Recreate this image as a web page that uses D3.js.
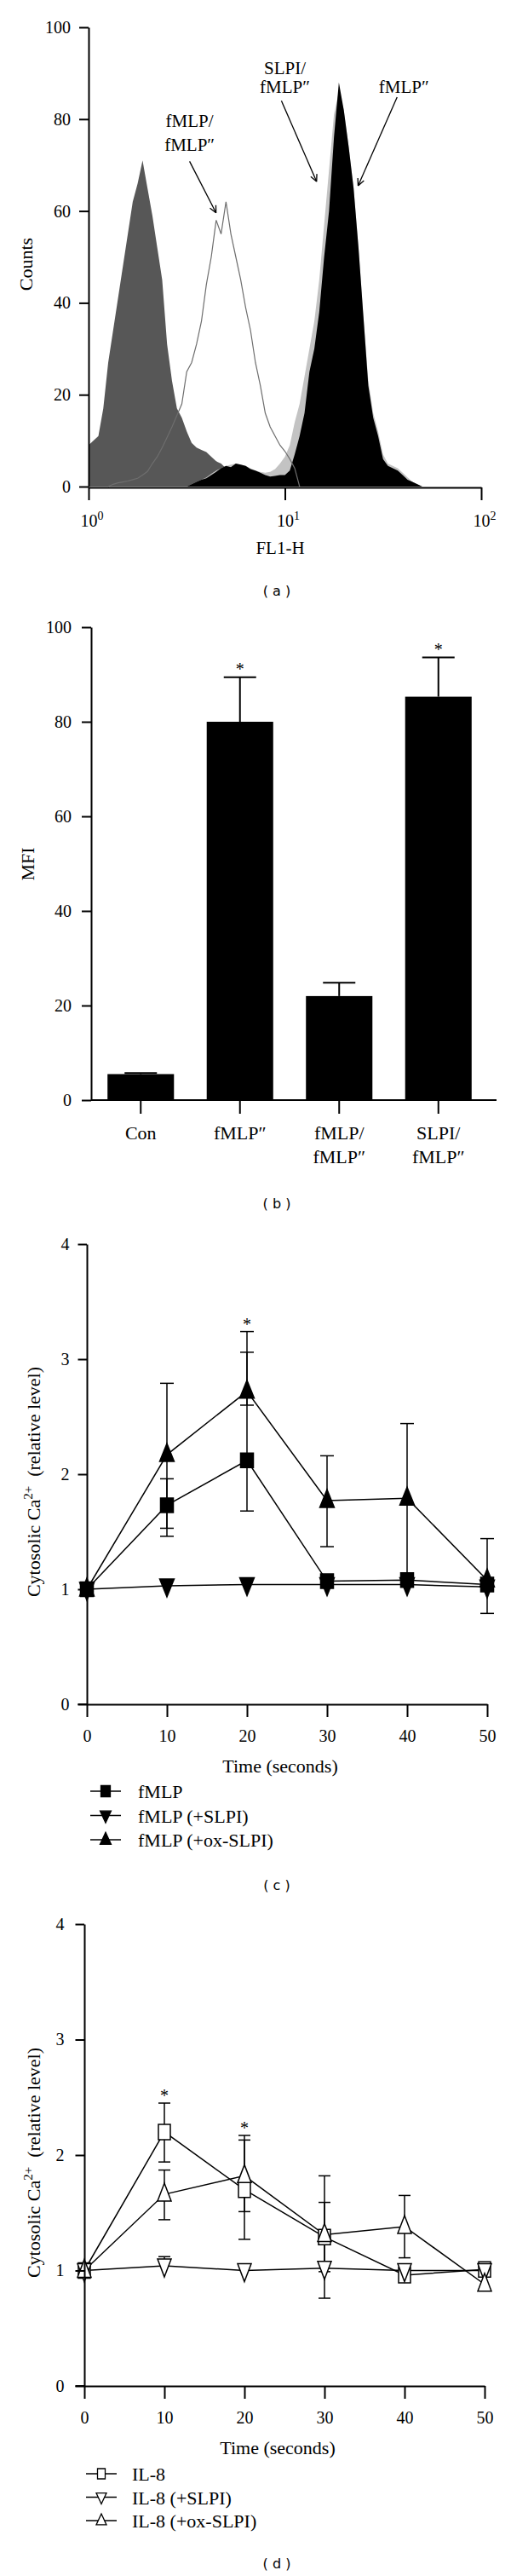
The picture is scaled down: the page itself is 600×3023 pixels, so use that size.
<!DOCTYPE html>
<html><head><meta charset="utf-8">
<script src="https://cdn.jsdelivr.net/npm/d3@7"></script>
<style>body{margin:0;background:#fff}</style>
</head><body>
<svg id="chart" width="600" height="3023" xmlns="http://www.w3.org/2000/svg"></svg>
<script>
// ================= DATA =================
// ---- Panel (a): flow cytometry histograms (FL1-H, log scale) ----
const histStep = 0.025; // bin width in log10(FL1-H)
const ctrlStartLog = 0;
const ctrlCounts = [9,10,11,17,27,34,41,48,55,62,66,71,65,59,52,45,31,23,17,15,12,9.5,8.5,8,7.5,6.5,5.5,5,4,3,2,1,0];
const fmlpFmlpStartLog = 0.1;
const fmlpFmlpCounts = [0,0.5,0.8,1,1.2,1.5,1.8,2.5,3.3,5,6.5,8.5,10.7,13,15.5,18,25,27,31,36,44,50,58,55,62,55,50,45,39,34,27,22,16,13,11,9,7.7,6,4,0];
const slpiFmlpStartLog = 0.5;
const slpiFmlpCounts = [0,0.5,1,1.5,2,2.8,3.5,4,4.5,4.8,5,4.8,4.5,4,3.5,3.2,3,3.2,3.8,5,6.5,9,14,18,24,30,36,45,57,69,81,86,82,74,65,52,37,23,16,12,7,5,4.5,4,3,2,1,0.5,0];
const fmlpStartLog = 0.5;
const fmlpCounts = [0,0.5,1,1.5,1.8,2.5,3.2,4,4.5,4.2,5,4.8,4.5,3.8,3.5,3,2.5,2.2,2.3,2.5,2.5,3.5,7,11,16,25,30,38,50,60,76,88,82,74,65,52,37,22,15,11,6,4.5,4,3.5,2.5,1.5,1,0.5,0];
const aYTicks = [0,20,40,60,80,100];
const aXTicks = [1,10,100];
const aXTickExp = ["0","1","2"];
const aNoteLines = [["fMLP/","fMLP\u2033"],["SLPI/","fMLP\u2033"],["fMLP\u2033"]];
const aNoteX = [3.27, 10, 40.4];           // FL1-H of text centre
const aNoteBaseCounts = [[78.3,73.1],[89.8,85.7],[85.7]];
const aArrowFrom = [[3.27,70.8],[9.6,84.0],[37.3,84.8]];
const aArrowTo = [[4.46,59.6],[14.5,66.4],[23.6,65.5]];

// ---- Panel (b): MFI bars ----
const bCats = ["Con","fMLP\u2033","fMLP/fMLP\u2033","SLPI/fMLP\u2033"];
const bLabelLines = [["Con"],["fMLP\u2033"],["fMLP/","fMLP\u2033"],["SLPI/","fMLP\u2033"]];
const bMFI = [5.5, 80.0, 22.0, 85.3];
const bErr = [0.2, 9.4, 2.8, 8.3];
const bSig = [false, true, false, true];
const bYTicks = [0,20,40,60,80,100];

// ---- Panel (c): fMLP calcium ----
const timeSec = [0,10,20,30,40,50];
const timeTicks = [0,10,20,30,40,50];
const caTicks = [0,1,2,3,4];
const cFmlp = [1.0,1.73,2.12,1.07,1.08,1.04];
const cFmlpLo = [1.0,1.53,1.68,1.07,1.08,1.04];
const cFmlpHi = [1.0,1.96,3.06,1.07,1.08,1.04];
const cSlpi = [1.0,1.03,1.04,1.04,1.04,1.02];
const cSlpiLo = [1.0,1.03,1.04,1.04,1.04,1.02];
const cSlpiHi = [1.0,1.03,1.04,1.04,1.04,1.02];
const cOx = [1.0,2.17,2.72,1.77,1.79,1.08];
const cOxLo = [1.0,1.46,2.60,1.37,1.14,0.79];
const cOxHi = [1.0,2.79,3.24,2.16,2.44,1.44];
const cStarIdx = [2];
const cLegend = ["fMLP","fMLP (+SLPI)","fMLP (+ox-SLPI)"];

// ---- Panel (d): IL-8 calcium ----
const dIl8 = [1.0,2.20,1.70,1.29,0.96,1.01];
const dIl8Lo = [1.0,1.94,1.27,0.99,0.96,1.01];
const dIl8Hi = [1.0,2.45,2.13,1.59,0.96,1.01];
const dSlpi = [1.0,1.04,1.0,1.02,1.0,1.0];
const dSlpiLo = [1.0,1.04,1.0,0.76,1.0,1.0];
const dSlpiHi = [1.0,1.12,1.0,1.02,1.0,1.0];
const dOx = [1.0,1.66,1.82,1.31,1.38,0.88];
const dOxLo = [1.0,1.44,1.51,1.05,1.11,0.88];
const dOxHi = [1.0,1.87,2.17,1.82,1.65,0.88];
const dStarIdx = [1,2];
const dLegend = ["IL-8","IL-8 (+SLPI)","IL-8 (+ox-SLPI)"];

// ================= DRAWING =================
const SERIF = "'Liberation Serif','Times New Roman',Times,serif";
const SANS = "'DejaVu Sans',Verdana,sans-serif";
const svg = d3.select("#chart");
svg.append("rect").attr("width",600).attr("height",3023).attr("fill","#fff");

function styleAxis(g, fs){
  g.selectAll("path.domain").attr("stroke","#000").attr("stroke-width",2);
  g.selectAll(".tick line").attr("stroke","#000").attr("stroke-width",2);
  g.selectAll(".tick text").attr("font-family",SERIF).attr("font-size",fs).attr("fill","#000");
}
function panelLabel(letter, y){
  svg.append("text").attr("x",325).attr("y",y).attr("text-anchor","middle")
    .attr("dominant-baseline","central").attr("font-family",SANS).attr("font-size",16)
    .attr("fill","#000").text("( "+letter+" )");
}

// ---------- Panel (a) ----------
(function(){
  const x = d3.scaleLog().domain([1,100]).range([104,565]);
  const y = d3.scaleLinear().domain([0,100]).range([571,32]);
  const toPts = (start, counts) => counts.map((c,i)=>({fl: Math.pow(10, start + i*histStep), c}));
  const area = d3.area().x(d=>x(d.fl)).y0(y(0)).y1(d=>y(d.c));
  const line = d3.line().x(d=>x(d.fl)).y(d=>y(d.c));
  const g = svg.append("g");
  g.append("path").datum(toPts(ctrlStartLog,ctrlCounts)).attr("d",area).attr("fill","#575757");
  g.append("path").datum(toPts(slpiFmlpStartLog,slpiFmlpCounts)).attr("d",area).attr("fill","#c3c3c3");
  g.append("path").datum(toPts(fmlpStartLog,fmlpCounts)).attr("d",area).attr("fill","#000");
  g.append("path").datum(toPts(fmlpFmlpStartLog,fmlpFmlpCounts)).attr("d",line)
    .attr("fill","none").attr("stroke","#6e6e6e").attr("stroke-width",1.2);

  const ya = svg.append("g").attr("transform","translate(104,0)")
    .call(d3.axisLeft(y).tickValues(aYTicks).tickSize(11).tickSizeOuter(0).tickPadding(10).tickFormat(d3.format("d")));
  styleAxis(ya, 20);
  const xa = svg.append("g").attr("transform","translate(0,572)")
    .call(d3.axisBottom(x).tickValues(aXTicks).tickSize(15).tickSizeOuter(0).tickFormat(()=>""));
  styleAxis(xa, 20);
  aXTicks.forEach((v,i)=>{
    const t = svg.append("text").attr("x",x(v)+4).attr("y",618).attr("text-anchor","middle")
      .attr("font-family",SERIF).attr("font-size",20).attr("fill","#000");
    t.append("tspan").text("10");
    t.append("tspan").attr("dy",-8).attr("font-size",14).text(aXTickExp[i]);
  });
  svg.append("text").attr("x",329).attr("y",650).attr("text-anchor","middle")
    .attr("font-family",SERIF).attr("font-size",21).text("FL1-H");
  svg.append("text").attr("transform","translate(38,310) rotate(-90)").attr("text-anchor","middle")
    .attr("font-family",SERIF).attr("font-size",22).text("Counts");

  // annotations with open arrowheads
  aNoteLines.forEach((lines,i)=>{
    lines.forEach((s,j)=>{
      svg.append("text").attr("x",x(aNoteX[i])).attr("y",y(aNoteBaseCounts[i][j]))
        .attr("text-anchor","middle").attr("font-family",SERIF).attr("font-size",21).text(s);
    });
    const x1=x(aArrowFrom[i][0]), y1=y(aArrowFrom[i][1]), x2=x(aArrowTo[i][0]), y2=y(aArrowTo[i][1]);
    svg.append("line").attr("x1",x1).attr("y1",y1).attr("x2",x2).attr("y2",y2)
      .attr("stroke","#000").attr("stroke-width",1.3);
    const ang = Math.atan2(y2-y1,x2-x1), L=9, sp=0.45;
    [ang+Math.PI-sp, ang+Math.PI+sp].forEach(a=>{
      svg.append("line").attr("x1",x2).attr("y1",y2)
        .attr("x2",x2+L*Math.cos(a)).attr("y2",y2+L*Math.sin(a))
        .attr("stroke","#000").attr("stroke-width",1.3);
    });
  });
  panelLabel("a",693);
})();

// ---------- Panel (b) ----------
(function(){
  const x = d3.scaleBand().domain(bCats).range([107,573]).paddingInner(0.33).paddingOuter(0.165);
  const y = d3.scaleLinear().domain([0,100]).range([1291,736]);
  const g = svg.append("g");
  bCats.forEach((c,i)=>{
    g.append("rect").attr("x",x(c)).attr("y",y(bMFI[i])).attr("width",x.bandwidth())
      .attr("height",y(0)-y(bMFI[i])).attr("fill","#000");
    const cx = x(c)+x.bandwidth()/2, top = y(bMFI[i]+bErr[i]);
    g.append("line").attr("x1",cx).attr("x2",cx).attr("y1",y(bMFI[i])).attr("y2",top)
      .attr("stroke","#000").attr("stroke-width",2);
    g.append("line").attr("x1",cx-19).attr("x2",cx+19).attr("y1",top).attr("y2",top)
      .attr("stroke","#000").attr("stroke-width",2);
    if(bSig[i]) g.append("text").attr("x",cx).attr("y",top-13+10).attr("text-anchor","middle")
      .attr("font-family",SERIF).attr("font-size",20).text("*");
    bLabelLines[i].forEach((s,j)=>{
      g.append("text").attr("x",cx).attr("y",1337+28*j).attr("text-anchor","middle")
        .attr("font-family",SERIF).attr("font-size",22).text(s);
    });
  });
  const ya = svg.append("g").attr("transform","translate(107,0)")
    .call(d3.axisLeft(y).tickValues(bYTicks).tickSize(11).tickSizeOuter(0).tickPadding(12).tickFormat(d3.format("d")));
  styleAxis(ya,20);
  const xa = svg.append("g").attr("transform","translate(0,1291)")
    .call(d3.axisBottom(x).tickSize(16).tickSizeOuter(0).tickFormat(()=>""));
  styleAxis(xa,20);
  xa.select("path.domain").remove();
  svg.append("line").attr("x1",x.range()[0]).attr("x2",x.range()[1]+10).attr("y1",1291).attr("y2",1291)
    .attr("stroke","#000").attr("stroke-width",2);
  svg.append("text").attr("transform","translate(40,1014) rotate(-90)").attr("text-anchor","middle")
    .attr("font-family",SERIF).attr("font-size",22).text("MFI");
  panelLabel("b",1412);
})();

// ---------- Panels (c) and (d) ----------
function markerPath(type, w, h){
  if(type==="square") return `M${-w/2},${-h/2}h${w}v${h}h${-w}Z`;
  if(type==="up") return `M0,${-h*0.62}L${w/2},${h*0.38}L${-w/2},${h*0.38}Z`;
  return `M0,${h*0.62}L${w/2},${-h*0.38}L${-w/2},${-h*0.38}Z`;
}
function timePanel(cfg){
  const x = d3.scaleLinear().domain([0,50]).range(cfg.xr);
  const y = d3.scaleLinear().domain([0,4]).range(cfg.yr);
  const g = svg.append("g");
  const fill = cfg.filled ? "#000" : "#fff";
  // error bars
  cfg.series.forEach(s=>{
    s.v.forEach((v,i)=>{
      const cx = x(timeSec[i]);
      if(s.hi[i] > v){
        g.append("line").attr("x1",cx).attr("x2",cx).attr("y1",y(v)).attr("y2",y(s.hi[i])).attr("stroke","#000").attr("stroke-width",1.5);
        g.append("line").attr("x1",cx-cfg.cap).attr("x2",cx+cfg.cap).attr("y1",y(s.hi[i])).attr("y2",y(s.hi[i])).attr("stroke","#000").attr("stroke-width",1.5);
      }
      if(s.lo[i] < v){
        g.append("line").attr("x1",cx).attr("x2",cx).attr("y1",y(v)).attr("y2",y(s.lo[i])).attr("stroke","#000").attr("stroke-width",1.5);
        g.append("line").attr("x1",cx-cfg.cap).attr("x2",cx+cfg.cap).attr("y1",y(s.lo[i])).attr("y2",y(s.lo[i])).attr("stroke","#000").attr("stroke-width",1.5);
      }
    });
  });
  const line = d3.line().x((d,i)=>x(timeSec[i])).y(d=>y(d));
  cfg.series.forEach(s=>{
    g.append("path").datum(s.v).attr("d",line).attr("fill","none").attr("stroke","#000").attr("stroke-width",1.5);
  });
  cfg.series.forEach(s=>{
    s.v.forEach((v,i)=>{
      const w = s.type==="square"?cfg.sqW:cfg.trW, h = s.type==="square"?cfg.sqH:cfg.trH;
      g.append("path").attr("d",markerPath(s.type,w,h)).attr("transform",`translate(${x(timeSec[i])},${y(v)})`)
        .attr("fill",fill).attr("stroke","#000").attr("stroke-width",1.5);
    });
  });
  cfg.stars.forEach(i=>{
    const top = d3.max(cfg.series, s=>s.hi[i]);
    g.append("text").attr("x",x(timeSec[i])).attr("y",y(top)-12+10).attr("text-anchor","middle")
      .attr("font-family",SERIF).attr("font-size",20).text("*");
  });
  const ya = svg.append("g").attr("transform",`translate(${cfg.xr[0]},0)`)
    .call(d3.axisLeft(y).tickValues(caTicks).tickSize(10.5).tickSizeOuter(0).tickPadding(cfg.yPad).tickFormat(d3.format("d")));
  styleAxis(ya,20);
  const xa = svg.append("g").attr("transform",`translate(0,${cfg.yr[0]})`)
    .call(d3.axisBottom(x).tickValues(timeTicks).tickSize(15).tickSizeOuter(0).tickPadding(15).tickFormat(d3.format("d")));
  styleAxis(xa,20);
  svg.append("line").attr("x1",cfg.xr[0]-10.5).attr("x2",cfg.xr[0]).attr("y1",cfg.yr[0]).attr("y2",cfg.yr[0])
    .attr("stroke","#000").attr("stroke-width",2);
  svg.append("text").attr("x",(cfg.xr[0]+cfg.xr[1])/2-8).attr("y",cfg.yr[0]+80).attr("text-anchor","middle")
    .attr("font-family",SERIF).attr("font-size",22).text("Time (seconds)");
  const yl = svg.append("text").attr("transform",`translate(47,${cfg.ylabY}) rotate(-90)`).attr("text-anchor","middle")
    .attr("font-family",SERIF).attr("font-size",22);
  yl.append("tspan").text("Cytosolic Ca");
  yl.append("tspan").attr("dy",-9).attr("font-size",15).text("2+");
  yl.append("tspan").attr("dy",9).text("\u00a0\u00a0(relative level)");
  // legend
  cfg.series.forEach((s,k)=>{
    const ly = cfg.legY + k*cfg.legDy;
    svg.append("line").attr("x1",cfg.legX1).attr("x2",cfg.legX1+36).attr("y1",ly).attr("y2",ly)
      .attr("stroke","#000").attr("stroke-width",1.5);
    const w = s.type==="square"?cfg.lsqW:cfg.ltrW, h = s.type==="square"?cfg.lsqH:cfg.ltrH;
    svg.append("path").attr("d",markerPath(s.type,w,h)).attr("transform",`translate(${cfg.legX1+18},${ly})`)
      .attr("fill",fill).attr("stroke","#000").attr("stroke-width",1.3);
    svg.append("text").attr("x",cfg.legTx).attr("y",ly+8).attr("font-family",SERIF).attr("font-size",22).text(cfg.legend[k]);
  });
}

timePanel({
  xr:[102,572], yr:[2000,1460], filled:true, cap:8, sqW:15, sqH:17, trW:17, trH:21,
  lsqW:11, lsqH:13, ltrW:13, ltrH:14, yPad:10, ylabY:1739,
  legY:2102, legDy:28.5, legX1:106, legTx:162, legend:cLegend, stars:cStarIdx,
  series:[
    {v:cFmlp, lo:cFmlpLo, hi:cFmlpHi, type:"square"},
    {v:cSlpi, lo:cSlpiLo, hi:cSlpiHi, type:"down"},
    {v:cOx, lo:cOxLo, hi:cOxHi, type:"up"}
  ]
});
panelLabel("c",2212);

timePanel({
  xr:[99,569], yr:[2800,2258], filled:false, cap:7, sqW:14, sqH:18, trW:16, trH:21,
  lsqW:9, lsqH:12, ltrW:12, ltrH:13, yPad:13, ylabY:2538,
  legY:2903, legDy:27.5, legX1:101, legTx:155, legend:dLegend, stars:dStarIdx,
  series:[
    {v:dIl8, lo:dIl8Lo, hi:dIl8Hi, type:"square"},
    {v:dSlpi, lo:dSlpiLo, hi:dSlpiHi, type:"down"},
    {v:dOx, lo:dOxLo, hi:dOxHi, type:"up"}
  ]
});
panelLabel("d",3008);
</script>
</body></html>
